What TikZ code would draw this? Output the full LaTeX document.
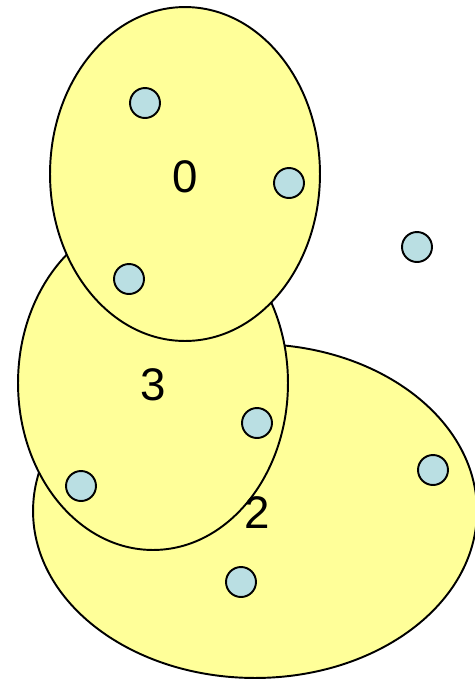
\documentclass[tikz,border=0pt]{standalone}
\usepackage{fontspec}
\setmainfont{Liberation Sans}
\usetikzlibrary{shapes.geometric}
\definecolor{grpfill}{HTML}{FFFF99}
\definecolor{grpdotfill}{HTML}{BADFE3}
\tikzset{
  grpblob/.style={
    draw, ellipse, fill=grpfill, line width=1.1pt, inner sep=0pt},
  grpdot/.style={
    draw, circle, fill=grpdotfill, line width=1.1pt, inner sep=0pt,
    minimum size=0.6cm},
  grplabel/.style={font=\fontsize{26}{30}\selectfont, inner sep=0pt},
}

\begin{document}
\begin{tikzpicture}[x=0.02cm, y=-0.02cm]
\useasboundingbox (0,0) rectangle (475,681);

% Groups, the lowest first.
\node[grpblob, minimum width=8.88cm, minimum height=6.68cm] (g2) at (255,511) {};
\node[grpblob, minimum width=5.4cm, minimum height=6.68cm] (g3) at (153,383) {};
\node[grpblob, minimum width=5.4cm, minimum height=6.68cm] (g0) at (185,174) {};

% Group numbers.
\node[grplabel] (l0) at (185,177) {0};
\node[grplabel] (l3) at (153,385) {3};
\node[grplabel] (l2) at (257,513) {2};

% Members.
\node[grpdot] (d1) at (145,103) {};
\node[grpdot] (d2) at (289,183) {};
\node[grpdot] (d3) at (129,279) {};
\node[grpdot] (d4) at (417,247) {};
\node[grpdot] (d5) at (257,423) {};
\node[grpdot] (d6) at (81,486) {};
\node[grpdot] (d7) at (433,470) {};
\node[grpdot] (d8) at (241,582) {};

\end{tikzpicture}
\end{document}
